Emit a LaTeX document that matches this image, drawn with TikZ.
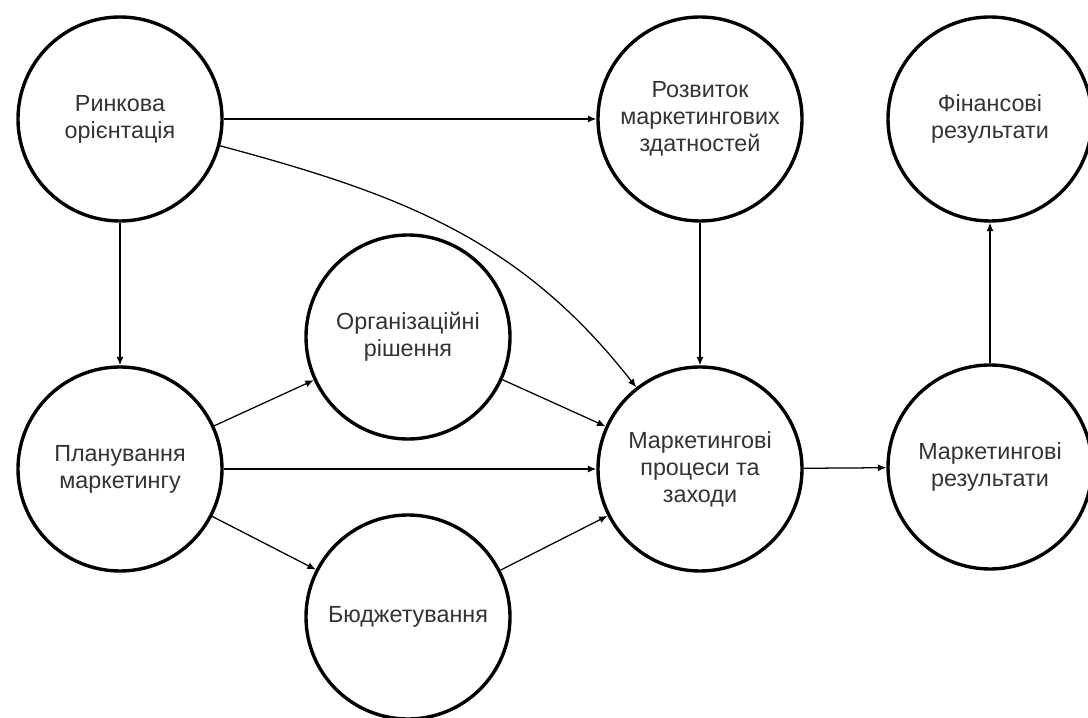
\documentclass[tikz,border=0pt]{standalone}
\usepackage{fontspec}
\setmainfont{Liberation Sans}
\usetikzlibrary{arrows.meta}

\tikzset{
  kolo/.style={draw, circle, line width=2.4pt, minimum size=5.1cm, inner sep=0pt,
    align=center, text=black!80, font=\fontsize{16.6}{19.2}\selectfont},
  strilka/.style={draw, line width=0.9pt, ->}
}

\begin{document}
\begin{tikzpicture}[>={Latex[length=6pt,width=5pt]}]
\useasboundingbox (0,0) rectangle (27.2,17.925);

\node[kolo] (rynok) at (3,14.95) {Ринкова\\орієнтація};
\node[kolo] (rozv) at (17.5,14.95) {Розвиток\\маркетингових\\здатностей};
\node[kolo] (fin) at (24.75,14.95) {Фінансові\\результати};
\node[kolo] (org) at (10.2,9.5) {Організаційні\\рішення};
\node[kolo] (plan) at (3,6.2) {Планування\\маркетингу};
\node[kolo] (proc) at (17.5,6.2) {Маркетингові\\процеси та\\заходи};
\node[kolo] (rez) at (24.75,6.25) {Маркетингові\\результати};
\node[kolo] (budg) at (10.2,2.5) {Бюджетування};

\path[strilka] (rynok) -- (rozv);
\path[strilka] (rynok) to[out=-15,in=128] (proc);
\path[strilka] (rynok) -- (plan);
\path[strilka] (rozv) -- (proc);
\path[strilka] (plan) -- (org);
\path[strilka] (plan) -- (proc);
\path[strilka] (plan) -- (budg);
\path[strilka] (org) -- (proc);
\path[strilka] (budg) -- (proc);
\path[strilka] (proc) -- (rez);
\path[strilka] (rez) -- (fin);
\end{tikzpicture}
\end{document}
